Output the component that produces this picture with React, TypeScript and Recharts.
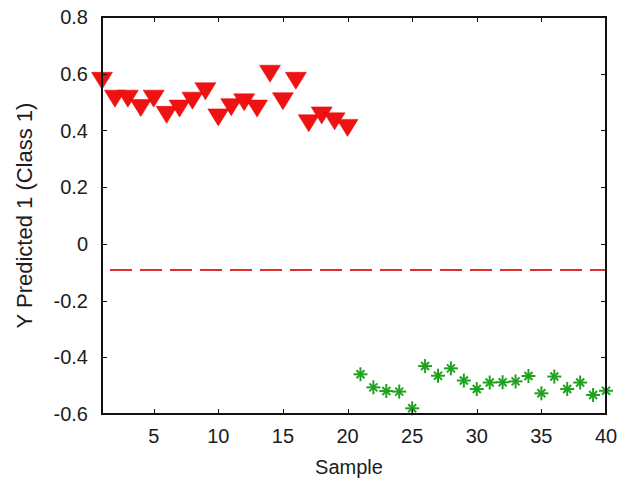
import {
  ScatterChart,
  Scatter,
  XAxis,
  YAxis,
  ReferenceLine,
} from "recharts"

// class 1 samples (red down-triangles)
const class1Samples = [1, 2, 3, 4, 5, 6, 7, 8, 9, 10, 11, 12, 13, 14, 15, 16, 17, 18, 19, 20]
const class1Pred = [
  0.575, 0.512, 0.512, 0.479, 0.512, 0.455, 0.477, 0.505, 0.538, 0.446,
  0.482, 0.499, 0.477, 0.6, 0.503, 0.575, 0.425, 0.453, 0.432, 0.409,
]

// class 2 samples (green asterisks)
const class2Samples = [21, 22, 23, 24, 25, 26, 27, 28, 29, 30, 31, 32, 33, 34, 35, 36, 37, 38, 39, 40]
const class2Pred = [
  -0.46, -0.506, -0.519, -0.521, -0.58, -0.431, -0.465, -0.439, -0.482, -0.512,
  -0.489, -0.488, -0.485, -0.466, -0.527, -0.468, -0.512, -0.489, -0.533, -0.518,
]

const threshold = -0.092

const xTicks = [5, 10, 15, 20, 25, 30, 35, 40]
const yTicks = [-0.6, -0.4, -0.2, 0, 0.2, 0.4, 0.6, 0.8]
const xDomain = [1, 40]
const yDomain = [-0.6, 0.8]

// plot box edges
const LEFT = 102
const RIGHT = 606
const TOP = 17
const BOTTOM = 414
const TICK_LEN = 5

const FONT = "'Liberation Sans', Arial, sans-serif"
const TEXT_COLOR = "#1c1c1c"
const FRAME = "#111111"

const class1Data = class1Samples.map((x, i) => ({ x, y: class1Pred[i] }))
const class2Data = class2Samples.map((x, i) => ({ x, y: class2Pred[i] }))

// same linear mapping the axes use, for the box overlay ticks
const xPx = (v: number) =>
  LEFT + ((v - xDomain[0]) / (xDomain[1] - xDomain[0])) * (RIGHT - LEFT)
const yPx = (v: number) =>
  BOTTOM - ((v - yDomain[0]) / (yDomain[1] - yDomain[0])) * (BOTTOM - TOP)

function DownTriangle(props: any) {
  const { cx, cy } = props
  const w = 10.5
  const h = 8.5
  return (
    <polygon
      points={`${cx - w},${cy - h} ${cx + w},${cy - h} ${cx},${cy + h}`}
      fill="#f01212"
      stroke="#e00000"
      strokeWidth={0.5}
    />
  )
}

function Asterisk(props: any) {
  const { cx, cy } = props
  const r = 7
  const d = 4
  return (
    <g stroke="#1fa31f" strokeWidth={2}>
      <line x1={cx - r} y1={cy} x2={cx + r} y2={cy} />
      <line x1={cx} y1={cy - r} x2={cx} y2={cy + r} />
      <line x1={cx - d} y1={cy - d} x2={cx + d} y2={cy + d} />
      <line x1={cx - d} y1={cy + d} x2={cx + d} y2={cy - d} />
    </g>
  )
}

const tickStyle = { fontSize: 20, fontFamily: FONT, fill: TEXT_COLOR }

// box + inward ticks on all four sides, laid over the plot area
function AxesBox() {
  const stub = (style: any, key: string) => (
    <div key={key} style={{ position: "absolute", background: FRAME, ...style }} />
  )
  return (
    <div style={{ position: "absolute", left: 0, top: 0, width: 620, height: 484, pointerEvents: "none" }}>
      <div
        style={{
          position: "absolute",
          left: LEFT - 1,
          top: TOP - 1,
          width: RIGHT - LEFT + 2,
          height: BOTTOM - TOP + 2,
          border: `2px solid ${FRAME}`,
          boxSizing: "border-box",
        }}
      />
      {xTicks.map((t) => [
        stub({ left: Math.round(xPx(t)) - 0.5, top: BOTTOM - TICK_LEN, width: 1, height: TICK_LEN }, `xb${t}`),
        stub({ left: Math.round(xPx(t)) - 0.5, top: TOP, width: 1, height: TICK_LEN }, `xt${t}`),
      ])}
      {yTicks.map((t) => [
        stub({ left: LEFT, top: Math.round(yPx(t)) - 0.5, width: TICK_LEN, height: 1 }, `yl${t}`),
        stub({ left: RIGHT - TICK_LEN, top: Math.round(yPx(t)) - 0.5, width: TICK_LEN, height: 1 }, `yr${t}`),
      ])}
    </div>
  )
}

export default function App() {
  return (
    <div style={{ position: "absolute", left: 0, top: 0, width: 620, height: 484 }}>
      <ScatterChart
        width={620}
        height={484}
        margin={{ top: TOP, right: 620 - RIGHT, bottom: 0, left: 0 }}
      >
        <XAxis
          type="number"
          dataKey="x"
          domain={xDomain}
          ticks={xTicks}
          axisLine={false}
          tickLine={false}
          tickSize={0}
          tickMargin={15}
          tick={tickStyle}
          height={484 - BOTTOM}
          label={{
            value: "Sample",
            position: "insideBottom",
            offset: 10,
            dx: -5,
            style: { fontSize: 20, fontFamily: FONT, fill: TEXT_COLOR },
          }}
        />
        <YAxis
          type="number"
          dataKey="y"
          domain={yDomain}
          ticks={yTicks}
          axisLine={false}
          tickLine={false}
          tickSize={0}
          tickMargin={14}
          tick={tickStyle}
          width={LEFT}
          label={{
            value: "Y Predicted 1 (Class 1)",
            angle: -90,
            position: "insideLeft",
            offset: 24,
            style: { fontSize: 22, fontFamily: FONT, fill: TEXT_COLOR, textAnchor: "middle" },
          }}
        />

        {/* decision threshold */}
        <ReferenceLine
          y={threshold}
          stroke="#e23030"
          strokeWidth={2}
          strokeDasharray="22 8"
          strokeDashoffset={22}
        />

        <Scatter data={class1Data} shape={DownTriangle} isAnimationActive={false} />
        <Scatter data={class2Data} shape={Asterisk} isAnimationActive={false} />
      </ScatterChart>
      <AxesBox />
    </div>
  )
}
